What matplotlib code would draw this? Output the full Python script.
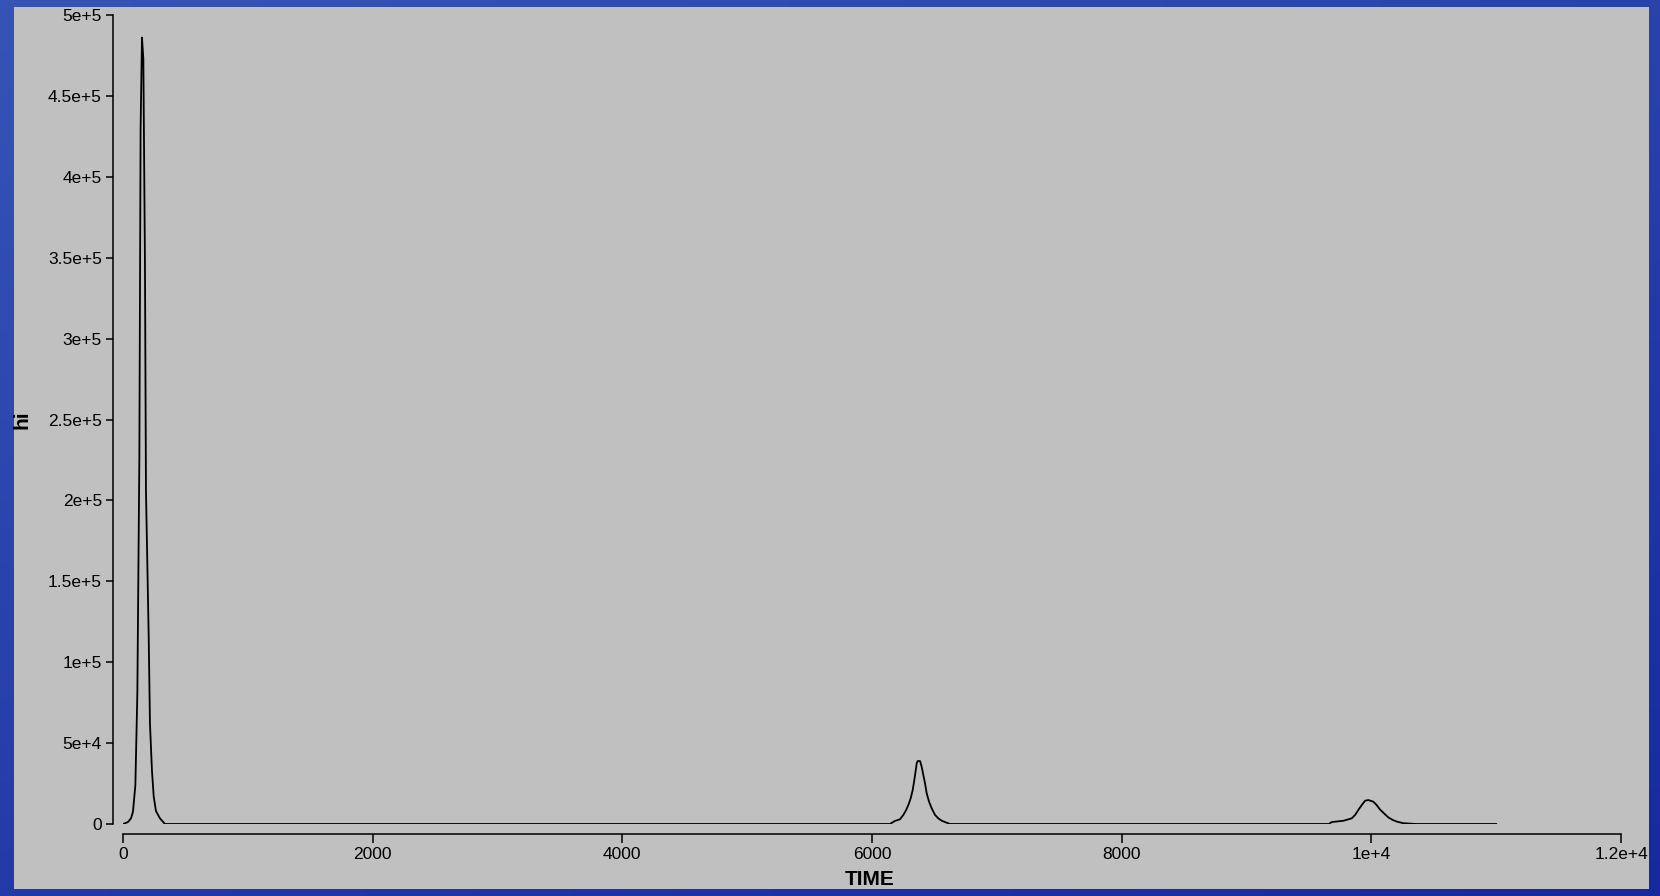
import numpy as np
import matplotlib
matplotlib.use("Agg")
import matplotlib.pyplot as plt
from matplotlib.patches import Rectangle

plt.rcParams['font.family'] = ['Liberation Sans', 'DejaVu Sans']

# values: TIME vs hi
time = [0, 40, 64, 80, 99, 115, 131, 141, 152, 163, 176, 184, 206, 216, 232, 246, 264, 296, 336,
        6144, 6184, 6224, 6251, 6274, 6291, 6310, 6326, 6337, 6347, 6358, 6366, 6385, 6398, 6411,
        6425, 6438, 6457, 6478, 6505, 6531, 6559, 6598, 6625,
        9660, 9683, 9776, 9843, 9870, 9896, 9923, 9950, 9976, 10016, 10043, 10069, 10101, 10136, 10171,
        10208, 10256, 10358, 11000]
hi = [0, 1200, 3500, 7600, 24000, 81000, 226000, 430000, 486000, 473000, 345000, 206000, 115000,
      62000, 33000, 17000, 8000, 3500, 0,
      0, 1900, 2900, 5600, 8700, 11700, 15900, 21000, 26200, 31300, 37500, 38900, 38900, 35400, 30300,
      25100, 19000, 13800, 9700, 5600, 3500, 2000, 800, 0,
      0, 1200, 2000, 3500, 5600, 8700, 11700, 14400, 14800, 13800, 11700, 9000, 6600, 4100, 2500,
      1400, 500, 0, 0]

xticks = [0, 2000, 4000, 6000, 8000, 10000, 12000]
xticklabels = ["0", "2000", "4000", "6000", "8000", "1e+4", "1.2e+4"]
yticks = [0, 50000, 100000, 150000, 200000, 250000, 300000, 350000, 400000, 450000, 500000]
yticklabels = ["0", "5e+4", "1e+5", "1.5e+5", "2e+5", "2.5e+5", "3e+5", "3.5e+5", "4e+5", "4.5e+5", "5e+5"]

W, H = 1660, 896
fig = plt.figure(figsize=(W / 100, H / 100), dpi=100)

# blue gradient background
bg = fig.add_axes([0, 0, 1, 1], zorder=-10)
gx, gy = np.meshgrid(np.linspace(0, 1, 200), np.linspace(0, 1, 100))
g = 0.6 * gy + 0.4 * gx
c0 = np.array([0x36, 0x54, 0xB6]) / 255
c1 = np.array([0x16, 0x2A, 0x9E]) / 255
img = c0[None, None, :] * (1 - g[..., None]) + c1[None, None, :] * g[..., None]
bg.imshow(img, aspect='auto', extent=[0, 1, 0, 1])
bg.set_axis_off()

# grey panel
fig.patches.append(Rectangle((14 / W, 1 - 889 / H), (1649 - 14) / W, (889 - 7) / H,
                             transform=fig.transFigure, facecolor='#C0C0C0',
                             edgecolor='none', zorder=-5))

ax = fig.add_axes([123 / W, 1 - 824 / H, (1621 - 123) / W, (824 - 15) / H])
ax.set_facecolor('none')
ax.plot(time, hi, color='black', lw=1.3)

ax.set_xlim(0, 12000)
ax.set_ylim(0, 500000)
ax.set_xticks(xticks)
ax.set_xticklabels(xticklabels)
ax.set_yticks(yticks)
ax.set_yticklabels(yticklabels)

for s in ['top', 'right']:
    ax.spines[s].set_visible(False)
ax.spines['left'].set_position(('outward', 7.2))
ax.spines['bottom'].set_position(('outward', 7.2))
for s in ['left', 'bottom']:
    ax.spines[s].set_linewidth(1.1)
ax.tick_params(axis='y', length=5, width=1.1, pad=3, labelsize=12.5)
ax.tick_params(axis='x', length=6.5, width=1.1, pad=3, labelsize=12.5)

ax.set_xlabel('TIME', fontsize=15, fontweight='bold')
ax.set_ylabel('hi', fontsize=15, fontweight='bold')
ax.xaxis.set_label_coords(0.4987, -0.057)
ax.yaxis.set_label_coords(-0.0614, 0.5)

fig.savefig('out.png', dpi=100)
